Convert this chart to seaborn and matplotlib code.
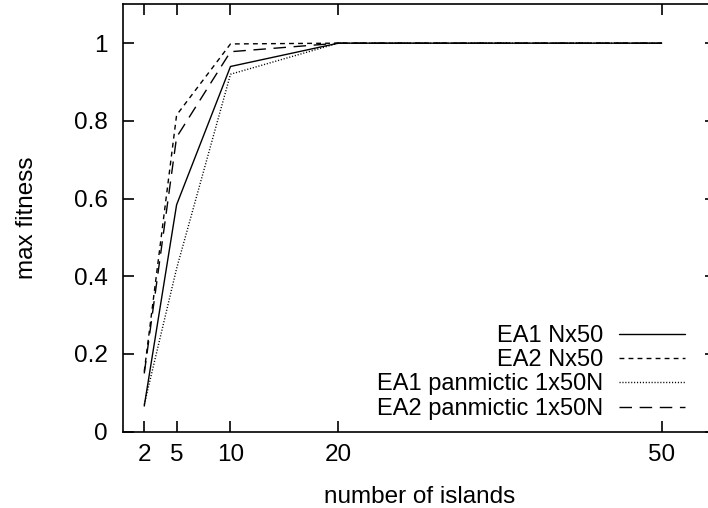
import matplotlib
matplotlib.use("Agg")
import matplotlib.pyplot as plt
import seaborn as sns
import pandas as pd

islands = [2, 5, 10, 20, 50]
ea1_nx50 = [0.066, 0.584, 0.94, 1.0, 1.0]
ea2_nx50 = [0.155, 0.815, 0.998, 1.0, 1.0]
ea1_pan = [0.07, 0.42, 0.92, 1.0, 1.0]
ea2_pan = [0.15, 0.758, 0.978, 1.0, 1.0]
labels = ["EA1 Nx50", "EA2 Nx50", "EA1 panmictic 1x50N", "EA2 panmictic 1x50N"]
xticks = [2, 5, 10, 20, 50]
yticks = [0, 0.2, 0.4, 0.6, 0.8, 1.0]
yticklabels = ["0", "0.2", "0.4", "0.6", "0.8", "1"]

FS = 17.5

sns.set_style("ticks")
plt.rcParams['font.family'] = ['Liberation Sans', 'DejaVu Sans']
plt.rcParams['font.size'] = FS
plt.rcParams['text.color'] = 'black'
plt.rcParams['axes.labelcolor'] = 'black'

fig = plt.figure(figsize=(7.08, 5.08), dpi=100)
ax = fig.add_axes([0.1733, 0.1502, 1.0107 - 0.1733, 0.9915 - 0.1502])

series = [ea1_nx50, ea2_nx50, ea1_pan, ea2_pan]
styles = ["-", (0, (3.5, 3.0)), (0, (0.8, 1.3)), (0, (9, 5.5))]
for vals, lab, ls in zip(series, labels, styles):
    df = pd.DataFrame({"x": islands, "y": vals})
    sns.lineplot(data=df, x="x", y="y", ax=ax, color="black", lw=1.0,
                 linestyle=ls, label=lab)

ax.set_xlim(0, 55)
ax.set_ylim(0, 1.1)
ax.set_xticks(xticks)
ax.set_xticklabels([str(v) for v in xticks])
ax.set_yticks(yticks)
ax.set_yticklabels(yticklabels)
ax.tick_params(direction="in", length=8, width=1.2, top=True, right=True,
               labelsize=FS, color="black", labelcolor="black")
ax.tick_params(axis="y", pad=10.5)
ax.tick_params(axis="x", pad=9)
for sp in ax.spines.values():
    sp.set_visible(True)
    sp.set_linewidth(1.2)
    sp.set_color("black")

ax.set_xlabel("number of islands", fontsize=FS, labelpad=14, color="black")
ax.set_ylabel("max fitness", fontsize=FS, labelpad=26, color="black")

leg = ax.legend(loc="lower right", bbox_to_anchor=(0.985, -0.022),
                frameon=False, markerfirst=False, handlelength=2.8,
                labelspacing=0.1, fontsize=17.0, handletextpad=0.7)
for t in leg.get_texts():
    t.set_ha("right")
    t.set_color("black")
leg._legend_box.align = "right"

fig.savefig("out.png", dpi=100)
